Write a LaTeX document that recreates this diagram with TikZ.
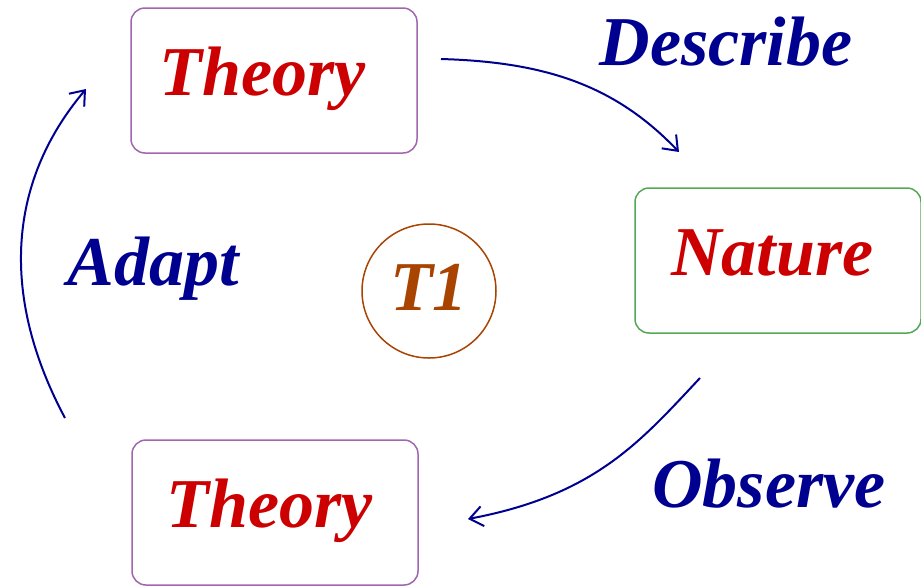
\documentclass[tikz,border=0pt]{standalone}
\usepackage{fontspec}
\setmainfont{Liberation Serif}
\usetikzlibrary{arrows.meta}
\definecolor{boxpurple}{HTML}{A066B0}
\definecolor{boxgreen}{HTML}{55A855}
\definecolor{txtred}{HTML}{CC0000}
\definecolor{txtblue}{HTML}{000090}
\definecolor{txtbrown}{HTML}{A84400}
\tikzset{
  bigfont/.style={font=\fontsize{70}{84}\selectfont\bfseries\itshape},
  thebox/.style={draw=#1, line width=1.5pt, rounded corners=14pt, bigfont, text=txtred,
    minimum width=286pt, minimum height=145pt, inner sep=0pt, text height=48pt, text depth=19pt},
  thecircle/.style={draw=txtbrown, line width=1.5pt, circle, minimum size=134pt, inner sep=0pt,
    bigfont, text=txtbrown, text height=48pt, text depth=10pt},
  steplabel/.style={bigfont, text=txtblue, anchor=base, inner sep=0pt},
  conn/.style={draw=txtblue, line width=2pt, -{Straight Barb[length=13pt,width=20pt,line width=2pt]}}
}
\begin{document}
\begin{tikzpicture}[x=1pt,y=-1pt]
\useasboundingbox (0,0) rectangle (921,587);
\node[thebox=boxpurple] (theory1) at (274,80.5) {Theory\kern22pt};
\node[thebox=boxgreen] (nature) at (778,260.5) {Nature\kern11pt};
\node[thebox=boxpurple] (theory2) at (275,512.5) {Theory\kern10pt};
\node[thecircle] (t1) at (429,291) {T1};
\node[steplabel] (describe) at (726,65) {Describe};
\node[steplabel] (adapt) at (153,285) {Adapt};
\node[steplabel] (observe) at (769,507) {Observe};
\coordinate (d1) at (441,59);
\coordinate (d2) at (679,152);
\coordinate (o1) at (700,378);
\coordinate (o2) at (468,519);
\coordinate (a1) at (65,418);
\coordinate (a2) at (86,89);
\draw[conn] (d1) .. controls (545,62) and (615,85) .. (d2);
\draw[conn] (o1) .. controls (640,442) and (595,495) .. (o2);
\draw[conn] (a1) .. controls (2,300) and (5,185) .. (a2);
\end{tikzpicture}
\end{document}
